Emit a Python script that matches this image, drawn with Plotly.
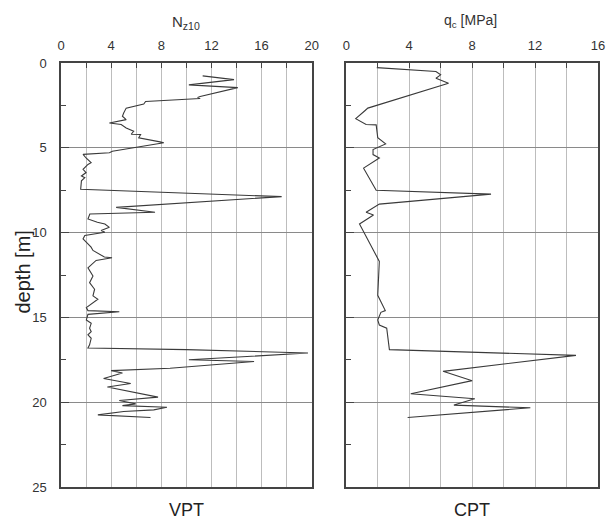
import plotly.graph_objects as go

# VPT profile: N_z10 vs depth [m]
vpt_depth = [0.76, 0.98, 1.29, 1.45, 1.97, 2.03, 2.09, 2.27, 2.42, 2.66, 2.95, 3.14, 3.34, 3.54,
             3.63, 3.83, 4.02, 4.2, 4.22, 4.41, 4.65, 4.7, 5.2, 5.29, 5.39, 5.6, 5.88, 5.98, 6.27,
             6.46, 6.66, 6.76, 6.95, 7.44, 7.88, 8.51, 8.8, 8.9, 9.2, 9.39, 9.49, 9.69, 9.88, 9.98,
             10.17, 10.37, 10.66, 10.86, 11.05, 11.25, 11.44, 11.48, 11.64, 12.08, 12.56, 12.95,
             13.34, 13.73, 13.93, 14.42, 14.6, 14.67, 14.82, 15.15, 15.35, 15.64, 15.84, 16.03,
             16.23, 16.62, 16.8, 16.9, 17.1, 17.5, 17.6, 18.0, 18.14, 18.28, 18.6, 18.9, 19.1,
             19.7, 19.9, 20.1, 20.2, 20.3, 20.45, 20.55, 20.75, 20.9]
vpt_n = [11.3, 13.8, 10.2, 14.1, 11.1, 10.9, 11.1, 6.75, 6.6, 5.2, 5.0, 4.9, 5.2, 3.86,
         4.8, 5.2, 5.8, 5.6, 6.35, 6.2, 7.9, 8.2, 4.1, 3.86, 1.76, 2.0, 2.4, 2.15, 1.76,
         2.0, 1.63, 1.9, 1.63, 1.57, 17.6, 4.4, 7.5, 2.3, 2.15, 2.9, 3.5, 3.86, 3.2, 3.5,
         1.9, 1.76, 2.15, 2.4, 2.55, 3.07, 3.46, 4.07, 2.8, 2.15, 2.55, 2.28,
         2.68, 2.55, 2.94, 2.02, 2.15, 4.65, 2.15, 2.02, 2.41, 2.28, 2.41, 2.15,
         2.41, 2.28, 2.15, 10.0, 19.7, 10.2, 15.4, 8.7, 4.0, 4.9, 3.4, 5.56, 3.7,
         7.74, 4.65, 5.96, 4.9, 8.45, 7.4, 5.0, 2.94, 7.14]

# CPT profile: q_c [MPa] vs depth [m]
cpt_depth = [0.27, 0.5, 0.7, 0.9, 1.19, 2.66, 2.8, 3.28, 3.63, 3.65, 4.4, 4.77, 5.1, 5.4, 5.6,
             6.2, 7.5, 7.73, 8.32, 8.8, 8.96, 9.49, 11.7, 13.7, 14.6, 14.7, 15.15, 15.45, 15.64,
             16.9, 17.24, 18.18, 18.73, 19.5, 19.8, 20.17, 20.33, 20.9]
cpt_q = [1.94, 5.7, 6.0, 5.7, 6.5, 1.37, 1.2, 0.6, 1.26, 1.9, 2.0, 2.5, 1.7, 1.7, 2.1,
         1.1, 1.9, 9.2, 2.1, 1.26, 1.73, 0.84, 2.1, 2.0, 2.48, 2.2, 2.0, 2.1, 2.57,
         2.74, 14.6, 6.15, 8.0, 4.1, 8.17, 6.84, 11.7, 3.9]

depth_ticks = [0, 5, 10, 15, 20, 25]
n_ticks = [0, 4, 8, 12, 16, 20]
q_ticks = [0, 4, 8, 12, 16]

FONT = "Liberation Sans"
LINE = "#3a3a3a"

fig = go.Figure()
fig.add_trace(go.Scatter(x=vpt_n, y=vpt_depth, mode="lines", xaxis="x", yaxis="y",
                         line=dict(color=LINE, width=1.1), showlegend=False))
fig.add_trace(go.Scatter(x=cpt_q, y=cpt_depth, mode="lines", xaxis="x2", yaxis="y2",
                         line=dict(color=LINE, width=1.1), showlegend=False))

def xgrid(maxv, labels):
    vals = list(range(0, maxv + 1, 2))
    text = [str(v) if v in labels else "" for v in vals]
    return vals, text

xv1, xt1 = xgrid(20, n_ticks)
xv2, xt2 = xgrid(16, q_ticks)

common_x = dict(side="top", showline=True, mirror=True, linecolor="#444", linewidth=1.5,
                showgrid=True, gridcolor="#bdbdbd", gridwidth=1, zeroline=False,
                ticks="inside", ticklen=5, tickcolor="#444", tickwidth=1, ticklabelstandoff=6,
                tickfont=dict(family=FONT, size=13, color="#333"), tickmode="array")
common_y = dict(range=[25, 0], showline=True, mirror=True, linecolor="#444", linewidth=1.5,
                showgrid=True, gridcolor="#8a8a8a", gridwidth=1, zeroline=False,
                tickmode="array", tickvals=depth_ticks, ticks="inside", ticklen=8,
                tickcolor="#444", ticklabelstandoff=10,
                minor=dict(dtick=2.5, ticks="inside", ticklen=5, tickcolor="#444", showgrid=False),
                tickfont=dict(family=FONT, size=13, color="#333"))

def ann(text, px_x, px_y, size, angle=0, color="#333"):
    return dict(text=text, x=(px_x - 61) / 544, y=(487 - px_y) / 424, xref="paper", yref="paper",
                xanchor="center", yanchor="middle", textangle=angle, showarrow=False,
                font=dict(family=FONT, size=size, color=color))

fig.update_layout(
    width=611, height=522,
    margin=dict(l=61, r=6, t=63, b=35),
    paper_bgcolor="white", plot_bgcolor="white",
    xaxis=dict(domain=[0, 254 / 544], range=[0, 20], tickvals=xv1, ticktext=xt1, anchor="y", **common_x),
    xaxis2=dict(domain=[289 / 544, 1], range=[0, 16], tickvals=xv2, ticktext=xt2, anchor="y2", **common_x),
    yaxis=dict(anchor="x", ticktext=[str(v) for v in depth_ticks], **common_y),
    yaxis2=dict(anchor="x2", showticklabels=False, **common_y),
    annotations=[
        ann("N<sub>z10</sub>", 188, 22, 15),
        ann("q<sub>c</sub> [MPa]", 476, 21, 14),
        ann("depth [m]", 22, 272, 20, angle=-90, color="#222"),
        ann("VPT", 188, 510, 18, color="#222"),
        ann("CPT", 477, 510, 18, color="#222"),
    ],
)

fig.write_html("out.html")
